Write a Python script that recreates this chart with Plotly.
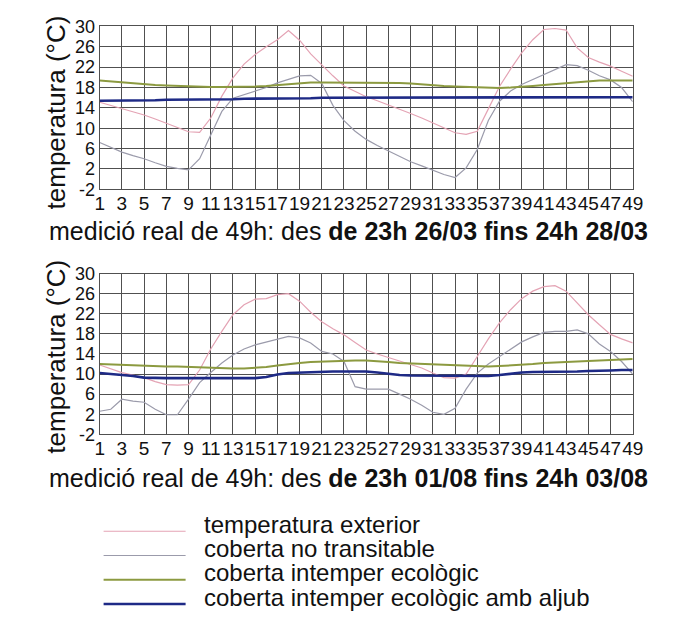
import plotly.graph_objects as go

hours = list(range(1, 50))
tick_vals_x = list(range(1, 50, 2))
tick_vals_y = list(range(-2, 31, 4))

# --- March measurement (top chart) ---
ext_mar = [15.1, 14.5, 13.9, 13.2, 12.6, 11.8, 11.0, 10.2, 9.3, 9.2,
           12.0, 16.3, 19.9, 22.6, 24.5, 26.0, 27.4, 29.2, 27.3, 24.6,
           22.4, 20.3, 18.3, 17.2, 16.2, 15.4, 14.6, 13.8, 12.9, 12.0,
           11.0, 10.0, 9.1, 8.8, 9.4, 13.8, 18.2, 21.6, 24.8, 27.4,
           29.4, 29.6, 29.3, 25.8, 23.9, 23.0, 22.2, 21.2, 20.2]
notr_mar = [7.2, 6.2, 5.3, 4.6, 4.0, 3.2, 2.5, 2.1, 1.8, 4.0,
            8.5, 13.3, 15.9, 16.6, 17.2, 18.0, 18.9, 19.6, 20.3, 20.4,
            18.8, 14.5, 11.5, 9.4, 7.8, 6.6, 5.5, 4.4, 3.4, 2.6,
            1.8, 0.9, 0.3, 2.2, 5.8, 11.5, 15.3, 17.3, 18.6, 19.6,
            20.6, 21.5, 22.5, 22.3, 21.4, 20.3, 19.5, 18.0, 15.2]
eco_mar = [19.4, 19.2, 19.0, 18.8, 18.6, 18.5, 18.4, 18.3, 18.2, 18.1,
           18.1, 18.1, 18.1, 18.1, 18.2, 18.3, 18.5, 18.7, 18.9, 19.0,
           19.0, 19.0, 19.0, 19.0, 19.0, 19.0, 19.0, 18.9, 18.8, 18.6,
           18.5, 18.3, 18.2, 18.1, 18.0, 17.9, 17.9, 18.0, 18.1, 18.3,
           18.5, 18.7, 18.9, 19.1, 19.3, 19.4, 19.4, 19.4, 19.4]
aljub_mar = [15.4, 15.4, 15.5, 15.5, 15.5, 15.5, 15.6, 15.6, 15.6, 15.6,
             15.7, 15.7, 15.7, 15.8, 15.8, 15.8, 15.9, 15.9, 15.9, 15.9,
             16.0, 16.0, 16.0, 16.0, 16.0, 16.0, 16.0, 16.0, 16.0, 16.0,
             16.0, 16.0, 16.0, 16.0, 16.0, 16.0, 16.0, 16.0, 16.0, 16.0,
             16.0, 16.0, 16.0, 16.0, 16.1, 16.1, 16.1, 16.1, 16.1]

# --- August measurement (bottom chart) ---
ext_aug = [11.8, 11.0, 10.3, 9.8, 9.3, 8.5, 7.9, 7.8, 7.9, 10.8,
           15.0, 18.5, 21.8, 23.8, 24.9, 25.0, 25.8, 26.0, 24.5, 22.3,
           20.4, 19.0, 17.8, 16.3, 14.8, 14.0, 13.3, 12.6, 11.9, 11.2,
           10.2, 9.3, 9.2, 10.0, 13.5, 17.0, 20.2, 22.8, 25.0, 26.5,
           27.4, 27.6, 26.5, 24.2, 21.8, 19.8, 17.9, 17.0, 16.2]
notr_aug = [2.6, 3.0, 5.0, 4.6, 4.4, 3.0, 1.9, 1.9, 5.0, 8.3,
            10.3, 12.2, 13.8, 15.0, 15.8, 16.4, 17.0, 17.5, 17.2, 16.2,
            14.5, 14.0, 12.5, 7.5, 7.0, 7.0, 7.0, 6.0, 5.0, 3.8,
            2.4, 2.0, 3.2, 7.0, 10.2, 12.0, 13.5, 15.0, 16.4, 17.4,
            18.3, 18.5, 18.5, 18.8, 18.0, 16.0, 14.5, 12.5, 10.0]
eco_aug = [12.0, 11.9, 11.8, 11.7, 11.7, 11.6, 11.5, 11.5, 11.4, 11.3,
           11.2, 11.2, 11.1, 11.1, 11.2, 11.4, 11.7, 12.0, 12.2, 12.4,
           12.5, 12.6, 12.7, 12.7, 12.7, 12.6, 12.4, 12.2, 12.1, 12.0,
           11.9, 11.8, 11.7, 11.6, 11.5, 11.5, 11.6, 11.7, 11.9, 12.0,
           12.2, 12.3, 12.4, 12.5, 12.6, 12.8, 12.9, 13.0, 13.0]
aljub_aug = [10.2, 10.0, 9.9, 9.6, 9.3, 9.2, 9.2, 9.2, 9.2, 9.2,
             9.2, 9.2, 9.2, 9.2, 9.2, 9.4, 9.9, 10.2, 10.3, 10.4,
             10.5, 10.5, 10.5, 10.5, 10.5, 10.3, 10.0, 9.8, 9.7, 9.7,
             9.7, 9.7, 9.7, 9.7, 9.6, 9.6, 9.8, 10.1, 10.3, 10.4,
             10.4, 10.5, 10.5, 10.5, 10.6, 10.6, 10.7, 10.8, 10.8]

series_names = ["temperatura exterior", "coberta no transitable",
                "coberta intemper ecològic", "coberta intemper ecològic amb aljub"]
series_colors = ["#e4a3b4", "#9b9bab", "#8c9a40", "#1e2a86"]
series_widths = [1.2, 1.2, 2.0, 2.6]

subtitle_top = "medició real de 49h: des <b>de 23h 26/03 fins 24h 28/03</b>"
subtitle_bot = "medició real de 49h: des <b>de 23h 01/08 fins 24h 03/08</b>"
y_title = "temperatura (°C)"

W, H = 673, 643
FONT = "Liberation Sans, Arial, sans-serif"

def px_x(p):
    return p / W

def px_y(p):
    return 1 - p / H

fig = go.Figure()

panels = [
    ("x", "y", [ext_mar, notr_mar, eco_mar, aljub_mar]),
    ("x2", "y2", [ext_aug, notr_aug, eco_aug, aljub_aug]),
]
for xa, ya, data in panels:
    for name, vals, col, wd in zip(series_names, data, series_colors, series_widths):
        fig.add_trace(go.Scatter(x=hours, y=vals, mode="lines", name=name,
                                 line=dict(color=col, width=wd),
                                 xaxis=xa, yaxis=ya, showlegend=False,
                                 hoverinfo="skip"))

grid = "#505050"
def xaxis_cfg(anchor):
    return dict(domain=[px_x(97), px_x(643)], range=[1, 49], anchor=anchor,
                tickmode="array", tickvals=tick_vals_x,
                ticktext=[str(v) for v in tick_vals_x],
                showgrid=True, gridcolor=grid, gridwidth=1,
                showline=True, linecolor=grid, linewidth=1, mirror=True,
                zeroline=False, ticks="", tickangle=0, ticklabelstandoff=-3,
                tickfont=dict(family=FONT, size=19, color="#111"))

def yaxis_cfg(anchor, top, bottom):
    return dict(domain=[px_y(bottom), px_y(top)], range=[-2, 30], anchor=anchor,
                tickmode="array", tickvals=tick_vals_y,
                ticktext=[str(v) for v in tick_vals_y],
                showgrid=True, gridcolor=grid, gridwidth=1,
                showline=True, linecolor=grid, linewidth=1, mirror=True,
                zeroline=False, ticks="",
                tickfont=dict(family=FONT, size=18, color="#111"))

annotations = [
    dict(text=y_title, x=px_x(52), y=px_y(106), xref="paper", yref="paper",
         xanchor="center", yanchor="middle", textangle=-90, showarrow=False,
         font=dict(family=FONT, size=26, color="#111")),
    dict(text=y_title, x=px_x(52), y=px_y(358), xref="paper", yref="paper",
         xanchor="center", yanchor="middle", textangle=-90, showarrow=False,
         font=dict(family=FONT, size=26, color="#111")),
    dict(text=subtitle_top, x=px_x(43), y=px_y(228), xref="paper", yref="paper",
         xanchor="left", yanchor="middle", showarrow=False,
         font=dict(family=FONT, size=25, color="#111")),
    dict(text=subtitle_bot, x=px_x(43), y=px_y(483), xref="paper", yref="paper",
         xanchor="left", yanchor="middle", showarrow=False,
         font=dict(family=FONT, size=25, color="#111")),
]

shapes = []
legend_rows = [531, 556, 581, 606]
for name, col, wd, yy in zip(series_names, series_colors, series_widths, legend_rows):
    shapes.append(dict(type="line", xref="paper", yref="paper",
                       x0=px_x(101), x1=px_x(185), y0=px_y(yy + 7), y1=px_y(yy + 7),
                       line=dict(color=col, width=wd)))
    annotations.append(dict(text=name, x=px_x(203), y=px_y(yy), xref="paper", yref="paper",
                            xanchor="left", yanchor="middle", showarrow=False,
                            borderpad=0,
                            font=dict(family=FONT, size=24, color="#111")))

fig.update_layout(
    width=W, height=H,
    margin=dict(l=0, r=0, t=0, b=0),
    paper_bgcolor="white", plot_bgcolor="white",
    xaxis=xaxis_cfg("y"),
    yaxis=yaxis_cfg("x", 17, 185),
    xaxis2=xaxis_cfg("y2"),
    yaxis2=yaxis_cfg("x2", 272, 438),
    annotations=annotations,
    shapes=shapes,
    showlegend=False,
)

fig.write_html("out.html", config={"displayModeBar": False},
               post_script="document.body.style.margin='0px';document.body.style.overflow='hidden';")
